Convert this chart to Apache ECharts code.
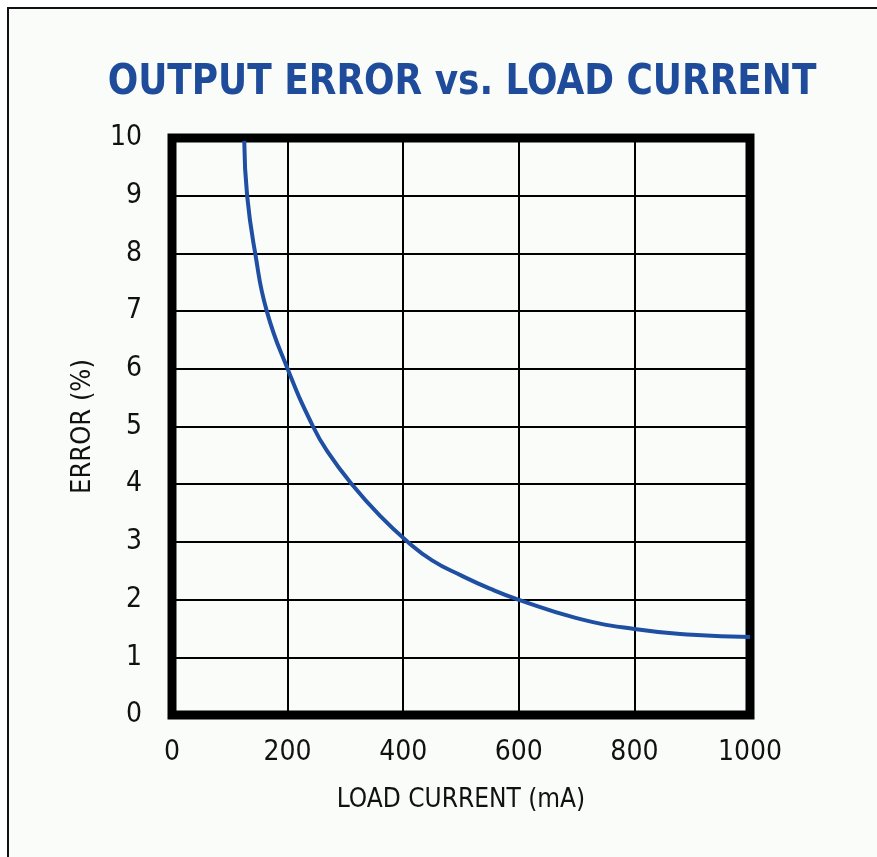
<!DOCTYPE html>
<html>
<head>
<meta charset="utf-8">
<script src="https://cdn.jsdelivr.net/npm/echarts@6/dist/echarts.min.js"></script>
<style>
  html, body { margin: 0; padding: 0; background: #ffffff; }
  #chart { width: 877px; height: 857px; }
</style>
</head>
<body>
<div id="chart"></div>
<script>
// load current (mA) and output error (%)
const loadCurrent = [125, 130, 144, 164, 200, 244, 270, 311, 360, 408, 450, 500, 550, 599, 700, 800, 900, 1000];
const outputError = [9.95, 9, 8, 7, 6, 5, 4.55, 4, 3.45, 3, 2.68, 2.42, 2.19, 2, 1.68, 1.49, 1.39, 1.35];
const xTicks = [0, 200, 400, 600, 800, 1000];
const yTicks = [0, 1, 2, 3, 4, 5, 6, 7, 8, 9, 10];

const chart = echarts.init(document.getElementById('chart'));

const narrow = '"Liberation Sans Narrow", "DejaVu Sans Condensed", sans-serif';

const option = {
    backgroundColor: '#ffffff',
    animation: false,
    graphic: [
        // page frame (only left and top edges fall inside the picture)
        { type: 'rect', shape: { x: 8, y: 8, width: 900, height: 900 },
          style: { fill: '#fafcfa', stroke: '#111', lineWidth: 2 }, z: -10 },
        {
            type: 'text',
            x: 462,
            y: 83,
            scaleX: 0.95,
            style: {
                text: 'OUTPUT ERROR vs. LOAD CURRENT',
                font: 'bold 42px ' + narrow,
                fill: '#1f4b9b',
                textAlign: 'center',
                textVerticalAlign: 'middle'
            }
        }
    ],
    grid: {
        left: 172,
        right: 127,
        top: 138,
        bottom: 142,
        show: true,
        borderColor: '#000',
        borderWidth: 9,
        backgroundColor: 'transparent'
    },
    xAxis: {
        type: 'value',
        min: 0,
        max: 1000,
        interval: 200,
        name: 'LOAD CURRENT (mA)',
        nameLocation: 'middle',
        nameGap: 72,
        nameTextStyle: { fontFamily: narrow, fontSize: 26, color: '#111' },
        axisLine: { show: false },
        axisTick: { show: false },
        axisLabel: {
            margin: 24,
            fontFamily: narrow,
            fontSize: 28,
            color: '#111',
            formatter: v => xTicks.includes(v) ? String(v) : ''
        },
        splitLine: { show: true, lineStyle: { color: '#000', width: 2 } }
    },
    yAxis: {
        type: 'value',
        min: 0,
        max: 10,
        interval: 1,
        name: 'ERROR (%)',
        nameLocation: 'middle',
        nameGap: 76,
        nameTextStyle: { fontFamily: narrow, fontSize: 27, color: '#111' },
        axisLine: { show: false },
        axisTick: { show: false },
        axisLabel: {
            margin: 30,
            fontFamily: narrow,
            fontSize: 28,
            color: '#111',
            formatter: v => yTicks.includes(v) ? String(v) : ''
        },
        splitLine: { show: true, lineStyle: { color: '#000', width: 2 } }
    },
    series: [
        {
            type: 'line',
            smooth: 0.5,
            showSymbol: false,
            data: loadCurrent.map((x, i) => [x, outputError[i]]),
            lineStyle: { color: '#1f4fa3', width: 4 },
            z: 5
        }
    ]
};

chart.setOption(option);
</script>
</body>
</html>
